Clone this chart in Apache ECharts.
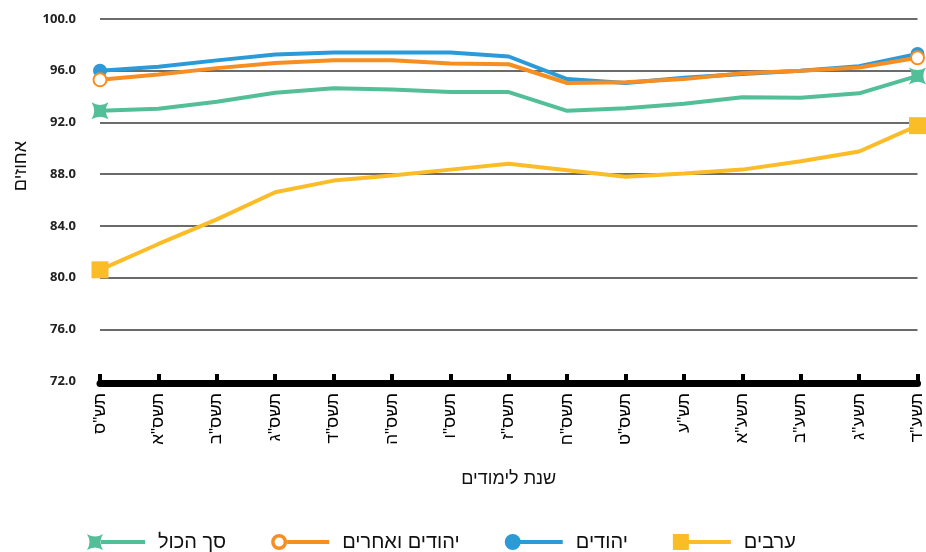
<!DOCTYPE html>
<html>
<head>
<meta charset="utf-8">
<script src="https://cdn.jsdelivr.net/npm/echarts@6/dist/echarts.min.js"></script>
<style>
  html, body { margin: 0; padding: 0; background: #fff; }
  #chart { width: 926px; height: 552px; }
</style>
</head>
<body>
<div id="chart"></div>
<script>
// ---- data ----
const categories = ['תש"ס', 'תשס"א', 'תשס"ב', 'תשס"ג', 'תשס"ד', 'תשס"ה', 'תשס"ו', 'תשס"ז', 'תשס"ח', 'תשס"ט', 'תש"ע', 'תשע"א', 'תשע"ב', 'תשע"ג', 'תשע"ד'];
const jews = [96.0, 96.3, 96.8, 97.25, 97.4, 97.4, 97.4, 97.1, 95.35, 95.05, 95.45, 95.75, 96.0, 96.35, 97.3];
const jewsAndOthers = [95.3, 95.7, 96.2, 96.6, 96.8, 96.8, 96.55, 96.5, 95.05, 95.1, 95.35, 95.8, 96.0, 96.25, 97.0];
const total = [92.9, 93.05, 93.6, 94.3, 94.65, 94.55, 94.35, 94.35, 92.9, 93.1, 93.45, 93.95, 93.9, 94.25, 95.6];
const arabs = [80.6, 82.6, 84.5, 86.6, 87.5, 87.9, 88.35, 88.8, 88.3, 87.8, 88.05, 88.35, 89.0, 89.75, 91.75];
const seriesNames = ['ערבים', 'יהודים', 'יהודים ואחרים', 'סך הכול'];
const legendOrder = ['סך הכול', 'יהודים ואחרים', 'יהודים', 'ערבים'];
const yAxisName = 'אחוזים';
const xAxisName = 'שנת לימודים';

// ---- styling ----
const C = { blue: '#2a9ad9', orange: '#f68e22', green: '#52bf98', yellow: '#fbbd27' };
const FONT = '"Open Sans", "DejaVu Sans", sans-serif';
const HFONT = '"Liberation Sans", "DejaVu Sans", sans-serif';
const STAR = 'path://M0,0 Q8,5 16,0 Q11,8 16,16 Q8,11 0,16 Q5,8 0,0 Z';
const LINE = ' M14,6 H58 V10 H14 Z';
const icons = {
  'סך הכול': 'path://M0,0 Q8,5 16,0 Q11,8 16,16 Q8,11 0,16 Q5,8 0,0 Z' + LINE,
  'יהודים ואחרים': 'path://M0,8 A8,8 0 1,1 16,8 A8,8 0 1,1 0,8 Z M3.5,8 A4.5,4.5 0 1,0 12.5,8 A4.5,4.5 0 1,0 3.5,8 Z M16,6 H58 V10 H16 Z',
  'יהודים': 'path://M0,8 A8,8 0 1,1 16,8 A8,8 0 1,1 0,8 Z' + LINE,
  'ערבים': 'path://M0,0 H16 V16 H0 Z' + LINE
};
const last = categories.length - 1;
const endsOnly = (sym) => (v, p) => (p.dataIndex === 0 || p.dataIndex === last) ? sym : 'none';

function mkSeries(name, data, color, sym, size, extra) {
  return Object.assign({
    name, type: 'line', data,
    symbol: endsOnly(sym), symbolSize: size, showSymbol: true, showAllSymbol: true,
    lineStyle: { color, width: 4 },
    itemStyle: { color },
    emphasis: { disabled: true },
    animation: false
  }, extra || {});
}

const chart = echarts.init(document.getElementById('chart'), null, { renderer: 'canvas' });
chart.setOption({
  animation: false,
  textStyle: { fontFamily: FONT },
  grid: { left: 100, right: 7, top: 19, bottom: 171, containLabel: false },
  xAxis: {
    type: 'category', data: categories, boundaryGap: false, offset: 2,
    axisLine: { lineStyle: { color: '#000', width: 7 } },
    axisTick: { inside: true, length: 9, lineStyle: { color: '#000', width: 4 } },
    axisLabel: { interval: 0, rotate: 90, margin: 10, fontSize: 17, color: '#000', fontFamily: HFONT },
    splitLine: { show: false },
    name: xAxisName, nameLocation: 'middle', nameGap: 87,
    nameTextStyle: { fontSize: 18, color: '#111', fontFamily: HFONT }
  },
  yAxis: {
    type: 'value', min: 72, max: 100, interval: 4,
    axisLine: { show: false }, axisTick: { show: false },
    axisLabel: { margin: 24, fontSize: 13, fontWeight: 'bold', color: '#222', fontFamily: FONT,
      formatter: v => v.toFixed(1) },
    splitLine: { lineStyle: { color: '#3a3a3a', width: 1.5 } }
  },
  legend: {
    data: legendOrder.map(n => ({ name: n, icon: icons[n] })),
    left: 87, top: 532, itemWidth: 58, itemHeight: 16, itemGap: 45, padding: 0,
    selectedMode: false,
    itemStyle: { borderWidth: 0 },
    textStyle: { fontSize: 20, color: '#111', fontFamily: HFONT, padding: [4, 0, 0, 8] }
  },
  graphic: [{
    type: 'text', left: 12, top: 141,
    rotation: Math.PI / 2,
    style: { text: yAxisName, fill: '#111', font: '18px ' + HFONT }
  }],
  series: [
    mkSeries(seriesNames[0], arabs, C.yellow, 'rect', 17),
    mkSeries(seriesNames[1], jews, C.blue, 'circle', 14),
    mkSeries(seriesNames[2], jewsAndOthers, C.orange, 'emptyCircle', 13,
      { itemStyle: { color: C.orange, borderColor: C.orange, borderWidth: 3.5 } }),
    mkSeries(seriesNames[3], total, C.green, STAR, 17)
  ]
});
</script>
</body>
</html>
